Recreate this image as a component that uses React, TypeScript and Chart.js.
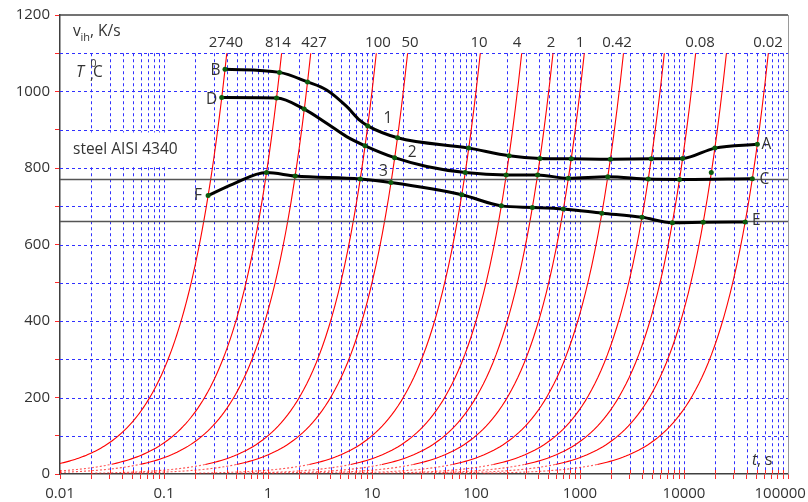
import React, { useEffect, useRef } from 'react';
import { Chart, registerables } from 'chart.js';

Chart.register(...registerables);

// cooling rates v_ih, K/s (each red line is the constant-rate cooling line T = v·t)
const rates = [2740, 814, 427, 100, 50, 10, 4, 2, 1, 0.42, 0.17, 0.085, 0.043, 0.017];
const rateLabels = ['2740', '814', '427', '100', '50', '10', '4', '2', '1', '0.42', '', '0.08', '', '0.02'];
// time (s) at which each rate label is centred along the top band
const rateLabelTime = [0.394, 1.247, 2.77, 11.4, 23.2, 107, 248, 526, 1000, 2270, 0, 14250, 0, 64300];

// curve 1 : B -> A
const curve1Time = [0.386, 1.29, 2.4, 3.66, 5.7, 7.6, 9.1, 17.6, 85, 208, 412, 824, 1960, 4845, 9700, 19800, 50700];
const curve1Temp = [1058, 1050, 1025, 1004, 961, 925, 910, 879, 852, 832, 825, 824, 823, 824, 825, 852, 862];
const curve1Dots = [1, 1, 1, 0, 0, 0, 1, 1, 1, 1, 1, 1, 1, 1, 1, 1, 1];

// curve 2 : D -> C
const curve2Time = [0.359, 1.208, 2.23, 3.66, 5.7, 8.58, 16.5, 33.6, 78.8, 195, 391, 773, 1850, 4535, 9060, 45400];
const curve2Temp = [984, 983, 954, 917, 882, 858, 827, 804, 788, 782, 782, 773, 777, 771, 770, 772];
const curve2Dots = [1, 1, 1, 0, 0, 1, 1, 0, 1, 1, 1, 1, 1, 1, 1, 1];

// curve 3 : F -> E
const curve3Time = [0.2656, 0.46, 0.968, 1.825, 7.7, 15.2, 73, 175, 348, 693, 1623, 3950, 7730, 15300, 38800];
const curve3Temp = [728, 758, 788, 779, 771, 762, 730, 701, 697, 693, 682, 671, 657, 658, 659];
const curve3Dots = [1, 0, 1, 1, 1, 1, 1, 1, 1, 1, 1, 1, 1, 1, 1];

// isolated marker
const strayTime = [18300];
const strayTemp = [788];

// horizontal reference levels, °C
const levelTemps = [770, 660];

// axis ticks
const xDecades = [0.01, 0.1, 1, 10, 100, 1000, 10000, 100000];
const xMultipliers = [1, 2, 3, 4, 5, 6, 7, 8, 9];
const yMin = 0;
const yMax = 1200;
const yStep = 100;
const yGridTop = 1100;

const FONT = "'Open Sans', 'Noto Sans', sans-serif";
const TXT = '#333333';

const xTickValues: number[] = [];
xDecades.forEach((d, i) => {
  if (i === xDecades.length - 1) {
    xTickValues.push(d);
  } else {
    xMultipliers.forEach((m) => xTickValues.push(parseFloat((m * d).toPrecision(6))));
  }
});

function rateLine(v: number) {
  const tStart = Math.max(0.01, 2 / v);
  const tEnd = yGridTop / v;
  const n = 90;
  const pts: { x: number; y: number }[] = [];
  const a = Math.log10(tStart);
  const b = Math.log10(tEnd);
  for (let i = 0; i <= n; i++) {
    const t = Math.pow(10, a + ((b - a) * i) / n);
    pts.push({ x: t, y: v * t });
  }
  return pts;
}

function zip(t: number[], T: number[]) {
  return t.map((x, i) => ({ x, y: T[i] }));
}

const decorPlugin = {
  id: 'decor',
  beforeDatasetsDraw(chart: any) {
    const { ctx, chartArea: a, scales } = chart;
    const x = scales.x;
    const y = scales.y;
    ctx.save();
    ctx.strokeStyle = '#3030ff';
    ctx.lineWidth = 1;
    ctx.setLineDash([3, 3]);
    for (let v = yMin + yStep; v <= yGridTop; v += yStep) {
      const py = Math.round(y.getPixelForValue(v)) + 0.5;
      ctx.beginPath();
      ctx.moveTo(a.left, py);
      ctx.lineTo(a.right, py);
      ctx.stroke();
    }
    const yTop = y.getPixelForValue(yGridTop);
    xTickValues.forEach((v) => {
      if (v <= xDecades[0] || v >= xDecades[xDecades.length - 1]) return;
      const px = Math.round(x.getPixelForValue(v)) + 0.5;
      ctx.beginPath();
      ctx.moveTo(px, yTop);
      ctx.lineTo(px, a.bottom);
      ctx.stroke();
    });
    ctx.setLineDash([]);
    // white box behind the steel label
    const by0 = y.getPixelForValue(893);
    const by1 = y.getPixelForValue(805);
    ctx.fillStyle = '#ffffff';
    ctx.fillRect(a.left + 1, by0, 127, by1 - by0);
    // inner part of the x tick marks
    ctx.strokeStyle = '#ff2a2a';
    xTickValues.forEach((v) => {
      const px = Math.round(x.getPixelForValue(v)) + 0.5;
      ctx.beginPath();
      ctx.moveTo(px, a.bottom - 4);
      ctx.lineTo(px, a.bottom);
      ctx.stroke();
    });
    // top and right frame
    ctx.strokeStyle = '#444444';
    ctx.lineWidth = 1.5;
    ctx.beginPath();
    ctx.moveTo(a.left, a.top);
    ctx.lineTo(a.right, a.top);
    ctx.stroke();
    ctx.strokeStyle = '#9a9a9a';
    ctx.lineWidth = 1;
    ctx.beginPath();
    ctx.moveTo(a.right + 0.5, a.top);
    ctx.lineTo(a.right + 0.5, a.bottom);
    ctx.stroke();
    ctx.restore();
  },
  afterDraw(chart: any) {
    const { ctx, chartArea: a, scales } = chart;
    const x = scales.x;
    const y = scales.y;
    const px = (t: number) => x.getPixelForValue(t);
    const py = (T: number) => y.getPixelForValue(T);
    ctx.save();
    ctx.fillStyle = TXT;
    const put = (s: string, X: number, Y: number, size: number, align = 'left', base = 'alphabetic', style = '') => {
      ctx.font = `${style} ${size}px ${FONT}`;
      ctx.textAlign = align;
      ctx.textBaseline = base;
      ctx.fillText(s, X, Y);
    };
    // rate labels along the top
    const labY = py(yGridTop) - 6;
    rateLabels.forEach((s, i) => {
      if (!s) return;
      put(s, px(rateLabelTime[i]), labY, 15, 'center');
    });
    // v_ih, K/s
    const L = a.left;
    put('v', L + 13, a.top + 21, 15.5);
    put('ih', L + 20.5, a.top + 26, 11);
    put(', K/s', L + 30, a.top + 21, 15.5);
    // T0,C
    put('T', L + 16, a.top + 62, 16, 'left', 'alphabetic', 'italic');
    put('0', L + 30.5, a.top + 52, 10.5);
    put(',', L + 30, a.top + 64, 15);
    put('C', L + 33, a.top + 62, 15.5);
    // steel
    put('steel AISI 4340', L + 13, py(853) + 6, 15.5);
    // t, s
    put('t', 752, a.bottom - 9, 15.5, 'left', 'alphabetic', 'italic');
    put(', s', 757, a.bottom - 9, 15.5);
    // curve numbers
    put('1', px(14.2), py(930), 15.5, 'center', 'middle');
    put('2', px(24.4), py(840), 15.5, 'center', 'middle');
    put('3', px(12.9), py(790), 15.5, 'center', 'middle');
    // end letters
    const n1 = curve1Time.length - 1;
    const n2 = curve2Time.length - 1;
    const n3 = curve3Time.length - 1;
    put('B', px(curve1Time[0]) - 9.5, py(curve1Temp[0]) + 1.5, 15.5, 'center', 'middle');
    put('D', px(curve2Time[0]) - 10, py(curve2Temp[0]) + 1.5, 15.5, 'center', 'middle');
    put('F', px(curve3Time[0]) - 10, py(curve3Temp[0]) + 0.5, 15.5, 'center', 'middle');
    put('A', px(curve1Time[n1]) + 9, py(curve1Temp[n1]) + 0.5, 15.5, 'center', 'middle');
    put('C', px(curve2Time[n2]) + 12, py(curve2Temp[n2]) + 0.5, 15.5, 'center', 'middle');
    put('E', px(curve3Time[n3]) + 11, py(curve3Temp[n3]) - 1, 15.5, 'center', 'middle');
    ctx.restore();
  },
};

export default function App() {
  const ref = useRef<HTMLCanvasElement | null>(null);

  useEffect(() => {
    if (!ref.current) return;
    const lowSeg = (c: any) => c.p0.parsed.y < 26 && c.p1.parsed.y < 26;
    const redSets = rates.map((v) => ({
      data: rateLine(v),
      showLine: true,
      borderColor: '#ff0000',
      borderWidth: 1.1,
      pointRadius: 0,
      tension: 0,
      order: 3,
      segment: {
        borderDash: (c: any) => (lowSeg(c) ? [2, 2] : undefined),
        borderColor: (c: any) => (lowSeg(c) ? 'rgba(255,30,30,0.75)' : undefined),
      },
    }));
    const levelSets = levelTemps.map((T) => ({
      data: [
        { x: xDecades[0], y: T },
        { x: xDecades[xDecades.length - 1], y: T },
      ],
      showLine: true,
      borderColor: '#555555',
      borderWidth: 1.4,
      pointRadius: 0,
      order: 2,
    }));
    const black = (t: number[], T: number[], dots: number[]) => ({
      data: zip(t, T),
      showLine: true,
      borderColor: '#000000',
      borderWidth: 3,
      cubicInterpolationMode: 'monotone',
      pointRadius: (c: any) => (dots[c.dataIndex] ? 2.5 : 0),
      pointBackgroundColor: '#0d5c0d',
      pointBorderWidth: 0,
      order: 1,
    });
    const stray = {
      data: zip(strayTime, strayTemp),
      showLine: false,
      pointRadius: 2.5,
      pointBackgroundColor: '#0d5c0d',
      pointBorderWidth: 0,
      order: 1,
    };

    const chart = new Chart(ref.current, {
      type: 'scatter',
      data: {
        datasets: [
          black(curve1Time, curve1Temp, curve1Dots),
          black(curve2Time, curve2Temp, curve2Dots),
          black(curve3Time, curve3Temp, curve3Dots),
          stray,
          ...levelSets,
          ...redSets,
        ] as any,
      },
      options: {
        animation: false,
        responsive: false,
        devicePixelRatio: 1,
        events: [],
        layout: { padding: { left: 0, right: 20, top: 15, bottom: 0 } },
        plugins: { legend: { display: false }, tooltip: { enabled: false }, title: { display: false } },
        scales: {
          x: {
            type: 'logarithmic',
            min: xDecades[0],
            max: xDecades[xDecades.length - 1],
            afterBuildTicks: (s: any) => {
              s.ticks = xTickValues.map((v) => ({ value: v }));
            },
            afterFit: (s: any) => {
              s.height = 28;
              s.paddingLeft = 0;
              s.paddingRight = 0;
            },
            grid: { drawOnChartArea: false, drawTicks: true, tickLength: 5, tickColor: '#ff2a2a', tickWidth: 1 },
            border: { display: true, color: '#404040', width: 1.5 },
            ticks: {
              autoSkip: false,
              maxRotation: 0,
              padding: 6,
              color: TXT,
              font: { family: FONT, size: 15 },
              callback: (v: any) => {
                const val = Number(v);
                if (!xDecades.some((d) => Math.abs(d - val) / d < 1e-6)) return '';
                // the last label is nudged left so it stays inside the picture
                return val === xDecades[xDecades.length - 1] ? String(val) + '    ' : String(val);
              },
            },
          },
          y: {
            type: 'linear',
            min: yMin,
            max: yMax,
            afterFit: (s: any) => {
              s.width = 60;
              s.paddingTop = 0;
              s.paddingBottom = 0;
            },
            grid: { drawOnChartArea: false, drawTicks: true, tickLength: 5, tickColor: '#ff2a2a', tickWidth: 1 },
            border: { display: true, color: '#404040', width: 1.5 },
            ticks: {
              stepSize: yStep,
              autoSkip: false,
              padding: 5,
              color: TXT,
              font: { family: FONT, size: 15 },
              callback: (v: any) => (Number(v) % 200 === 0 ? String(v) : ''),
            },
          },
        },
      } as any,
      plugins: [decorPlugin as any],
    });
    return () => chart.destroy();
  }, []);

  return (
    <div style={{ position: 'absolute', left: 0, top: 0, width: 808, height: 502, background: '#fff' }}>
      <canvas ref={ref} width={808} height={502} style={{ display: 'block' }} />
    </div>
  );
}
